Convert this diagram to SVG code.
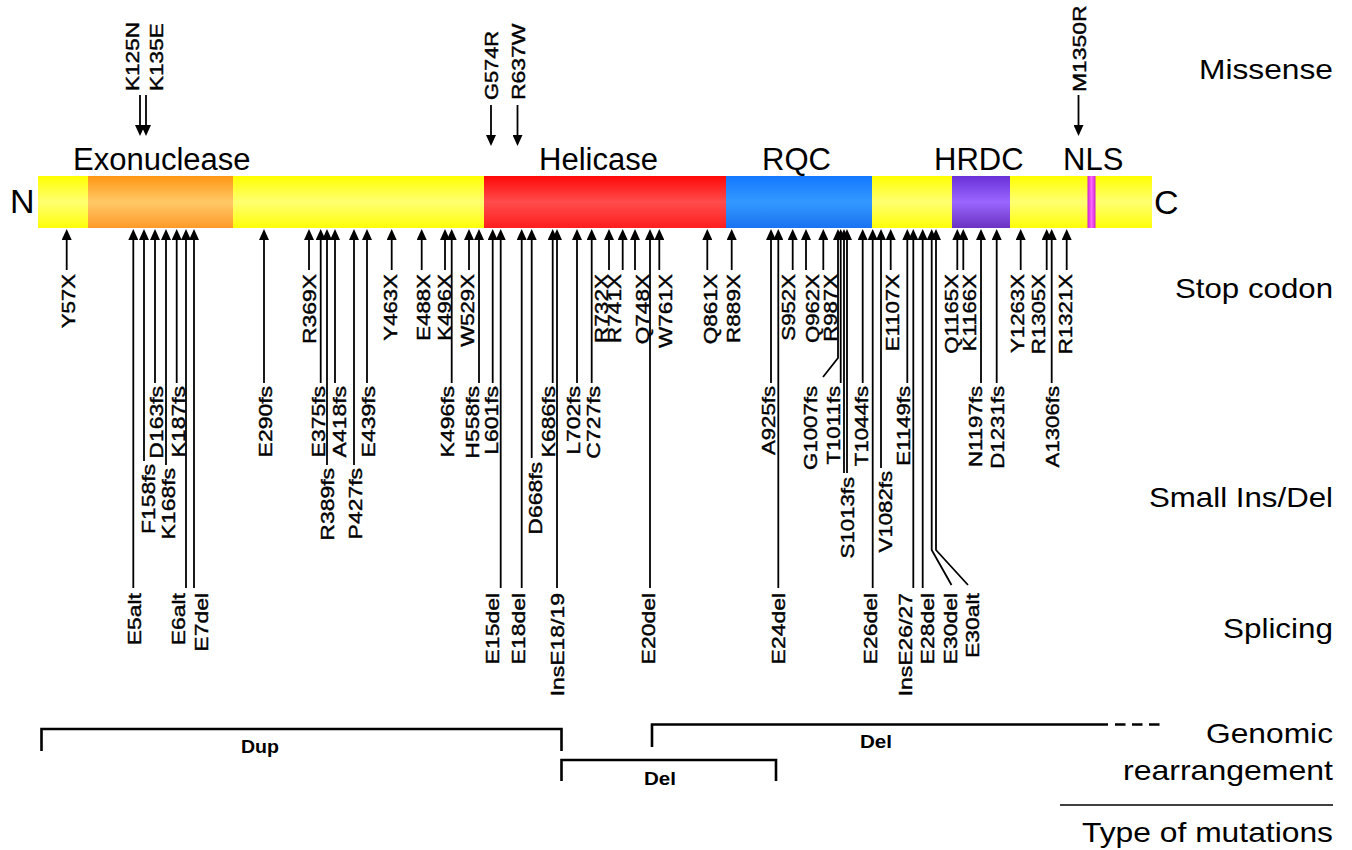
<svg xmlns="http://www.w3.org/2000/svg" width="1352" height="850" viewBox="0 0 1352 850">
<style>
.ar{stroke:#000;stroke-width:1.8;fill:none;marker-end:url(#ah)}
.br{stroke:#000;stroke-width:2.6;fill:none}
.m{font-family:"Liberation Sans",Arial,sans-serif;font-size:18.5px;fill:#000;stroke:#000;stroke-width:0.4;text-anchor:end}
.mt{font-family:"Liberation Sans",Arial,sans-serif;font-size:18.5px;fill:#000;stroke:#000;stroke-width:0.4;text-anchor:start}
.d{font-family:"Liberation Sans",Arial,sans-serif;font-size:31px;fill:#000}
.nc{font-family:"Liberation Sans",Arial,sans-serif;font-size:34px;fill:#000}
.t{font-family:"Liberation Sans",Arial,sans-serif;font-size:28px;fill:#000;text-anchor:end}
.b{font-family:"Liberation Sans",Arial,sans-serif;font-size:18px;font-weight:bold;fill:#000;text-anchor:middle}
</style>
<defs>
<marker id="ah" markerUnits="userSpaceOnUse" markerWidth="11" markerHeight="10" viewBox="0 0 11 10" refX="1" refY="5" orient="auto"><path d="M0,0L11,5L0,10z" fill="#000"/></marker>
<linearGradient id="gy" x1="0" y1="0" x2="0" y2="1"><stop offset="0" stop-color="#ffff00"/><stop offset="0.5" stop-color="#ffff72"/><stop offset="1" stop-color="#ffff08"/></linearGradient>
<linearGradient id="go" x1="0" y1="0" x2="0" y2="1"><stop offset="0" stop-color="#ff9612"/><stop offset="0.5" stop-color="#ffc968"/><stop offset="1" stop-color="#ff9a28"/></linearGradient>
<linearGradient id="gr" x1="0" y1="0" x2="0" y2="1"><stop offset="0" stop-color="#ff0808"/><stop offset="0.5" stop-color="#ff4c4c"/><stop offset="1" stop-color="#ff1e1e"/></linearGradient>
<linearGradient id="gb" x1="0" y1="0" x2="0" y2="1"><stop offset="0" stop-color="#1478ff"/><stop offset="0.5" stop-color="#3399ff"/><stop offset="1" stop-color="#1a72f0"/></linearGradient>
<linearGradient id="gp" x1="0" y1="0" x2="0" y2="1"><stop offset="0" stop-color="#6a30d8"/><stop offset="0.5" stop-color="#9a66ff"/><stop offset="1" stop-color="#6a32c0"/></linearGradient>
<linearGradient id="gk" x1="0" y1="0" x2="1" y2="0"><stop offset="0" stop-color="#cc22cc"/><stop offset="0.5" stop-color="#ff66ff"/><stop offset="1" stop-color="#cc22cc"/></linearGradient>
</defs>
<rect width="1352" height="850" fill="#fff"/>

<g id="protein">
<rect x="38" y="176" width="1114" height="52" fill="url(#gy)"/>
<text class="nc" x="10" y="213">N</text>
<text class="nc" x="1154" y="214">C</text>
</g>
<g id="exonuclease"><rect x="88" y="176" width="145" height="52" fill="url(#go)"/><text class="d" x="73" y="170">Exonuclease</text></g>
<g id="helicase"><rect x="484" y="176" width="242" height="52" fill="url(#gr)"/><text class="d" x="539" y="170">Helicase</text></g>
<g id="rqc"><rect x="726" y="176" width="146" height="52" fill="url(#gb)"/><text class="d" x="762" y="170">RQC</text></g>
<g id="hrdc"><rect x="952" y="176" width="58" height="52" fill="url(#gp)"/><text class="d" x="934" y="170">HRDC</text></g>
<g id="nls"><rect x="1087.5" y="176" width="8" height="52" fill="url(#gk)"/><text class="d" x="1063" y="170">NLS</text></g>

<g id="connectors">
<path class="ar" d="M140 95V126"/>
<path class="ar" d="M146 95V126"/>
<path class="ar" d="M491 105V136"/>
<path class="ar" d="M517.5 105V136"/>
<path class="ar" d="M1078.5 95V126"/>
<path class="ar" d="M66.7 270V239"/>
<path class="ar" d="M309 270V239"/>
<path class="ar" d="M391.7 270V239"/>
<path class="ar" d="M421.7 270V239"/>
<path class="ar" d="M445 270V239"/>
<path class="ar" d="M469 270V239"/>
<path class="ar" d="M609 270V239"/>
<path class="ar" d="M622.7 270V239"/>
<path class="ar" d="M635 270V239"/>
<path class="ar" d="M659.3 270V239"/>
<path class="ar" d="M707.3 270V239"/>
<path class="ar" d="M731.7 270V239"/>
<path class="ar" d="M792.7 270V239"/>
<path class="ar" d="M806 270V239"/>
<path class="ar" d="M823.3 270V239"/>
<path class="ar" d="M890.7 270V239"/>
<path class="ar" d="M957.3 270V239"/>
<path class="ar" d="M963.3 270V239"/>
<path class="ar" d="M1020.7 270V239"/>
<path class="ar" d="M1046.7 270V239"/>
<path class="ar" d="M1066.7 270V239"/>
<path class="ar" d="M155 383V239"/>
<path class="ar" d="M176.7 383V239"/>
<path class="ar" d="M264 383V239"/>
<path class="ar" d="M320.7 383V239"/>
<path class="ar" d="M335 383V239"/>
<path class="ar" d="M367 383V239"/>
<path class="ar" d="M451.7 383V239"/>
<path class="ar" d="M479 383V239"/>
<path class="ar" d="M492.7 383V239"/>
<path class="ar" d="M552.7 383V239"/>
<path class="ar" d="M577 383V239"/>
<path class="ar" d="M591.7 383V239"/>
<path class="ar" d="M771 383V239"/>
<path class="ar" d="M823 377L838 358V239"/>
<path class="ar" d="M840.7 383V239"/>
<path class="ar" d="M862.7 383V239"/>
<path class="ar" d="M907.3 383V239"/>
<path class="ar" d="M981 383V239"/>
<path class="ar" d="M996.7 383V239"/>
<path class="ar" d="M1051.7 383V239"/>
<path class="ar" d="M144 461V239"/>
<path class="ar" d="M166 465V239"/>
<path class="ar" d="M327 465V239"/>
<path class="ar" d="M354 465V239"/>
<path class="ar" d="M531.7 458V239"/>
<path class="ar" d="M844 473V239"/>
<path class="ar" d="M847 473V239"/>
<path class="ar" d="M881 468V239"/>
<path class="ar" d="M133.3 588V239"/>
<path class="ar" d="M186 588V239"/>
<path class="ar" d="M194 588V239"/>
<path class="ar" d="M500.7 588V239"/>
<path class="ar" d="M521.7 588V239"/>
<path class="ar" d="M557 588V239"/>
<path class="ar" d="M650 588V239"/>
<path class="ar" d="M778.3 588V239"/>
<path class="ar" d="M872.7 588V239"/>
<path class="ar" d="M913.3 588V239"/>
<path class="ar" d="M922.7 588V239"/>
<path class="ar" d="M951.5 585L931.7 550V239"/>
<path class="ar" d="M968 585L936 550V239"/>
<path class="br" d="M41.5 751V729H561.5V751"/>
<path class="br" d="M561.5 781V760H776V781"/>
<path class="br" d="M652 747V724.5H1108"/>
<path class="br" d="M1115 724.5H1160" stroke-dasharray="10.5,6.5"/>
<path d="M1060 805H1333" stroke="#000" stroke-width="1.5"/>
</g>

<g id="missense-labels">
<text class="mt" transform="translate(132.5,91) rotate(-90) scale(1.22,1)" y="6.5">K125N</text>
<text class="mt" transform="translate(156.5,91) rotate(-90) scale(1.22,1)" y="6.5">K135E</text>
<text class="mt" transform="translate(491.5,100) rotate(-90) scale(1.18,1)" y="6.5">G574R</text>
<text class="mt" transform="translate(518,100) rotate(-90) scale(1.24,1)" y="6.5">R637W</text>
<text class="mt" transform="translate(1079,92) rotate(-90) scale(1.24,1)" y="6.5">M1350R</text>
</g>

<g id="stop-labels">
<text class="m" transform="translate(68,274) rotate(-90) scale(1.2,1)" y="6.5">Y57X</text>
<text class="m" transform="translate(309,274) rotate(-90) scale(1.24,1)" y="6.5">R369X</text>
<text class="m" transform="translate(390,274) rotate(-90) scale(1.2,1)" y="6.5">Y463X</text>
<text class="m" transform="translate(423,274) rotate(-90) scale(1.2,1)" y="6.5">E488X</text>
<text class="m" transform="translate(444,274) rotate(-90) scale(1.2,1)" y="6.5">K496X</text>
<text class="m" transform="translate(467,274) rotate(-90) scale(1.2,1)" y="6.5">W529X</text>
<text class="m" transform="translate(601.5,274) rotate(-90) scale(1.22,1)" y="6.5">R732X</text>
<text class="m" transform="translate(614,274) rotate(-90) scale(1.22,1)" y="6.5">R741X</text>
<text class="m" transform="translate(642,274) rotate(-90) scale(1.22,1)" y="6.5">Q748X</text>
<text class="m" transform="translate(665,274) rotate(-90) scale(1.22,1)" y="6.5">W761X</text>
<text class="m" transform="translate(710,274) rotate(-90) scale(1.22,1)" y="6.5">Q861X</text>
<text class="m" transform="translate(733,274) rotate(-90) scale(1.22,1)" y="6.5">R889X</text>
<text class="m" transform="translate(788,274) rotate(-90) scale(1.2,1)" y="6.5">S952X</text>
<text class="m" transform="translate(812,274) rotate(-90) scale(1.2,1)" y="6.5">Q962X</text>
<text class="m" transform="translate(830,274) rotate(-90) scale(1.2,1)" y="6.5">R987X</text>
<text class="m" transform="translate(892,274) rotate(-90) scale(1.2,1)" y="6.5">E1107X</text>
<text class="m" transform="translate(951,274) rotate(-90) scale(1.2,1)" y="6.5">Q1165X</text>
<text class="m" transform="translate(969,274) rotate(-90) scale(1.2,1)" y="6.5">K1166X</text>
<text class="m" transform="translate(1017,274) rotate(-90) scale(1.2,1)" y="6.5">Y1263X</text>
<text class="m" transform="translate(1038,274) rotate(-90) scale(1.2,1)" y="6.5">R1305X</text>
<text class="m" transform="translate(1065,274) rotate(-90) scale(1.2,1)" y="6.5">R1321X</text>
</g>

<g id="insdel-labels">
<text class="m" transform="translate(156,386) rotate(-90) scale(1.24,1)" y="6.5">D163fs</text>
<text class="m" transform="translate(178,386) rotate(-90) scale(1.24,1)" y="6.5">K187fs</text>
<text class="m" transform="translate(265,386) rotate(-90) scale(1.24,1)" y="6.5">E290fs</text>
<text class="m" transform="translate(318,386) rotate(-90) scale(1.24,1)" y="6.5">E375fs</text>
<text class="m" transform="translate(339,386) rotate(-90) scale(1.24,1)" y="6.5">A418fs</text>
<text class="m" transform="translate(368,386) rotate(-90) scale(1.24,1)" y="6.5">E439fs</text>
<text class="m" transform="translate(447,386) rotate(-90) scale(1.24,1)" y="6.5">K496fs</text>
<text class="m" transform="translate(472,386) rotate(-90) scale(1.24,1)" y="6.5">H558fs</text>
<text class="m" transform="translate(491,386) rotate(-90) scale(1.24,1)" y="6.5">L601fs</text>
<text class="m" transform="translate(548,386) rotate(-90) scale(1.24,1)" y="6.5">K686fs</text>
<text class="m" transform="translate(573,386) rotate(-90) scale(1.24,1)" y="6.5">L702fs</text>
<text class="m" transform="translate(593,386) rotate(-90) scale(1.24,1)" y="6.5">C727fs</text>
<text class="m" transform="translate(768,386) rotate(-90) scale(1.2,1)" y="6.5">A925fs</text>
<text class="m" transform="translate(810,386) rotate(-90) scale(1.2,1)" y="6.5">G1007fs</text>
<text class="m" transform="translate(833,386) rotate(-90) scale(1.2,1)" y="6.5">T1011fs</text>
<text class="m" transform="translate(861,386) rotate(-90) scale(1.2,1)" y="6.5">T1044fs</text>
<text class="m" transform="translate(903,386) rotate(-90) scale(1.2,1)" y="6.5">E1149fs</text>
<text class="m" transform="translate(975,386) rotate(-90) scale(1.2,1)" y="6.5">N1197fs</text>
<text class="m" transform="translate(997,386) rotate(-90) scale(1.2,1)" y="6.5">D1231fs</text>
<text class="m" transform="translate(1052,386) rotate(-90) scale(1.2,1)" y="6.5">A1306fs</text>
<text class="m" transform="translate(148,464) rotate(-90) scale(1.24,1)" y="6.5">F158fs</text>
<text class="m" transform="translate(168,468) rotate(-90) scale(1.24,1)" y="6.5">K168fs</text>
<text class="m" transform="translate(327,468) rotate(-90) scale(1.24,1)" y="6.5">R389fs</text>
<text class="m" transform="translate(355,468) rotate(-90) scale(1.24,1)" y="6.5">P427fs</text>
<text class="m" transform="translate(535,462) rotate(-90) scale(1.24,1)" y="6.5">D668fs</text>
<text class="m" transform="translate(847,477) rotate(-90) scale(1.2,1)" y="6.5">S1013fs</text>
<text class="m" transform="translate(885,471) rotate(-90) scale(1.2,1)" y="6.5">V1082fs</text>
</g>

<g id="splicing-labels">
<text class="m" transform="translate(134,593) rotate(-90) scale(1.24,1)" y="6.5">E5alt</text>
<text class="m" transform="translate(178,593) rotate(-90) scale(1.24,1)" y="6.5">E6alt</text>
<text class="m" transform="translate(201,593) rotate(-90) scale(1.24,1)" y="6.5">E7del</text>
<text class="m" transform="translate(492,593) rotate(-90) scale(1.24,1)" y="6.5">E15del</text>
<text class="m" transform="translate(518,593) rotate(-90) scale(1.24,1)" y="6.5">E18del</text>
<text class="m" transform="translate(557,593) rotate(-90) scale(1.24,1)" y="6.5">InsE18/19</text>
<text class="m" transform="translate(648,593) rotate(-90) scale(1.24,1)" y="6.5">E20del</text>
<text class="m" transform="translate(778,593) rotate(-90) scale(1.24,1)" y="6.5">E24del</text>
<text class="m" transform="translate(870,593) rotate(-90) scale(1.24,1)" y="6.5">E26del</text>
<text class="m" transform="translate(905,593) rotate(-90) scale(1.24,1)" y="6.5">InsE26/27</text>
<text class="m" transform="translate(927,593) rotate(-90) scale(1.24,1)" y="6.5">E28del</text>
<text class="m" transform="translate(950,593) rotate(-90) scale(1.24,1)" y="6.5">E30del</text>
<text class="m" transform="translate(972,593) rotate(-90) scale(1.24,1)" y="6.5">E30alt</text>
</g>

<g id="rearrangement-labels">
<text class="b" x="260" y="753" textLength="38" lengthAdjust="spacingAndGlyphs">Dup</text>
<text class="b" x="660" y="785" textLength="32" lengthAdjust="spacingAndGlyphs">Del</text>
<text class="b" x="876" y="748" textLength="32" lengthAdjust="spacingAndGlyphs">Del</text>
</g>

<g id="type-labels">
<text class="t" x="1333" y="79" textLength="134" lengthAdjust="spacingAndGlyphs">Missense</text>
<text class="t" x="1333" y="298" textLength="158" lengthAdjust="spacingAndGlyphs">Stop codon</text>
<text class="t" x="1333" y="507" textLength="184" lengthAdjust="spacingAndGlyphs">Small Ins/Del</text>
<text class="t" x="1333" y="638" textLength="110" lengthAdjust="spacingAndGlyphs">Splicing</text>
<text class="t" x="1333" y="743" textLength="127" lengthAdjust="spacingAndGlyphs">Genomic</text>
<text class="t" x="1333" y="780" textLength="210" lengthAdjust="spacingAndGlyphs">rearrangement</text>
<text class="t" x="1333" y="842" textLength="251" lengthAdjust="spacingAndGlyphs">Type of mutations</text>
</g>
</svg>
